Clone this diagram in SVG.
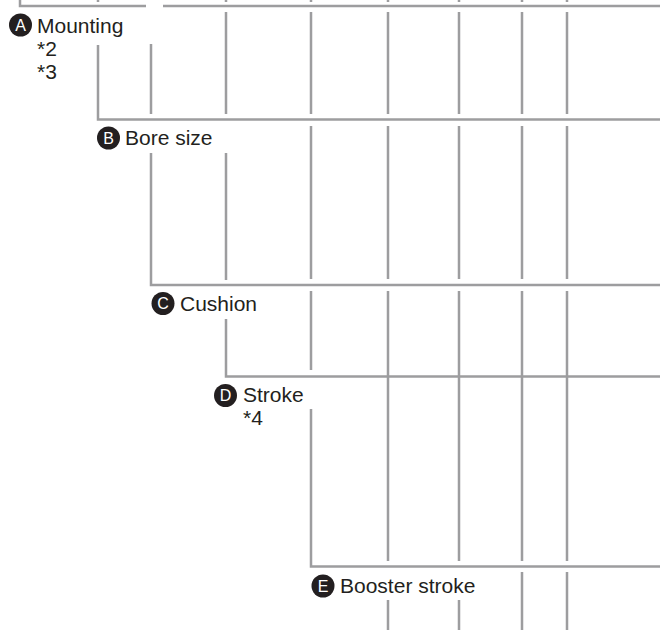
<svg xmlns="http://www.w3.org/2000/svg" width="660" height="630" viewBox="0 0 660 630">
<style>
.ln{fill:none;stroke:#9d9d9f;stroke-width:2.5}
.lbl{font-family:"Liberation Sans",Arial,sans-serif;font-size:21px;fill:#231f20}
.bd{fill:#231f20}
.bt{font-family:"Liberation Sans",Arial,sans-serif;font-size:16px;fill:#ffffff;text-anchor:middle}
</style>
<rect width="660" height="630" fill="#ffffff"/>
<g id="connectors" class="ln">
<path d="M20,0V6H146"/>
<path d="M163,6H660"/>
<path d="M98,0V2M226,0V2M311,0V2M388,0V2M459,0V2M522,0V2M567,0V2"/>
<path d="M151,44V114M226,12V114M311,12V114M388,12V114M459,12V114M522,12V114M567,12V114"/>
<path d="M98,45V119.5H660"/>
<path d="M226,153V280M311,126V279M388,126V279M459,126V279M522,126V279M567,126V279"/>
<path d="M151,153V285H660"/>
<path d="M311,291V370M388,291V561M459,291V561M522,291V561M567,291V561"/>
<path d="M226,319V376.5H660"/>
<path d="M311,409V566.5H660"/>
<path d="M388,600V630M459,600V630M522,572V630M567,572V630"/>
</g>
<g id="nodeA">
<circle class="bd" cx="20.5" cy="25" r="11.5"/>
<text class="bt" x="20.5" y="30.8">A</text>
<text class="lbl" x="37" y="33">Mounting</text>
<text class="lbl" x="37" y="56">*2</text>
<text class="lbl" x="37" y="79">*3</text>
</g>
<g id="nodeB">
<circle class="bd" cx="108.5" cy="138" r="11.5"/>
<text class="bt" x="108.5" y="143.8">B</text>
<text class="lbl" x="125" y="145">Bore size</text>
</g>
<g id="nodeC">
<circle class="bd" cx="163" cy="303.5" r="11.5"/>
<text class="bt" x="163" y="309.3">C</text>
<text class="lbl" x="180" y="311">Cushion</text>
</g>
<g id="nodeD">
<circle class="bd" cx="225.5" cy="395.5" r="11.5"/>
<text class="bt" x="225.5" y="401.3">D</text>
<text class="lbl" x="243" y="402">Stroke</text>
<text class="lbl" x="243" y="425">*4</text>
</g>
<g id="nodeE">
<circle class="bd" cx="323" cy="586" r="11.5"/>
<text class="bt" x="323" y="591.8">E</text>
<text class="lbl" x="340" y="593">Booster stroke</text>
</g>
</svg>
